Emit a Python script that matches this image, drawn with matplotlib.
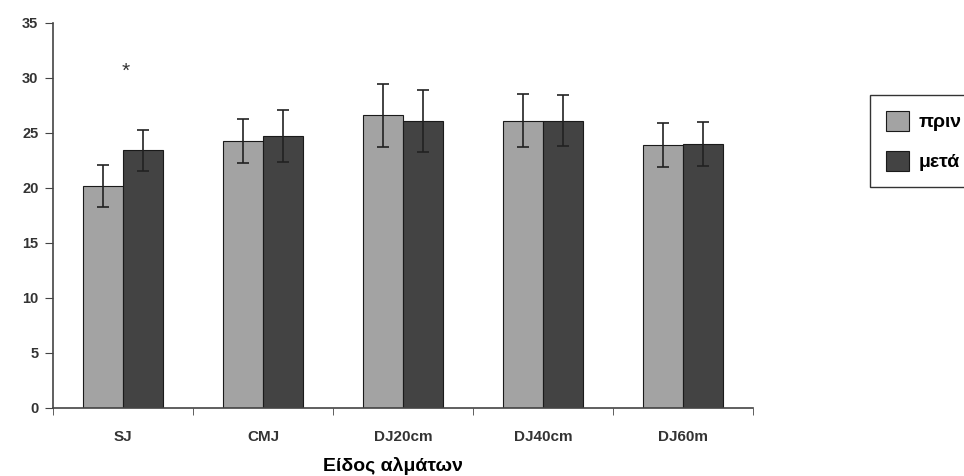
import matplotlib
matplotlib.use("Agg")
import matplotlib.pyplot as plt
import numpy as np

categories = ["SJ", "CMJ", "DJ20cm", "DJ40cm", "DJ60m"]
before = [20.2, 24.3, 26.6, 26.1, 23.9]
after = [23.4, 24.7, 26.1, 26.1, 24.0]
before_err = [1.9, 2.0, 2.85, 2.4, 2.0]
after_err = [1.9, 2.35, 2.8, 2.3, 2.0]
series_names = ["πριν", "μετά"]
xlabel = "Είδος αλμάτων"
yticks = [0, 5, 10, 15, 20, 25, 30, 35]

plt.rcParams['font.family'] = ['Liberation Sans', 'DejaVu Sans']

fig = plt.figure(figsize=(9.64, 4.76), dpi=100)
ax = fig.add_axes([0.055, 0.143, 0.726, 0.809])

x = np.arange(len(categories)) + 0.5
w = 0.285
c1, c2 = "#a3a3a3", "#434343"
err_kw = dict(ecolor="#222222", elinewidth=1.2, capsize=4, capthick=1.2)
b1 = ax.bar(x - w/2, before, w, yerr=before_err, color=c1, edgecolor="#1a1a1a",
            linewidth=0.8, error_kw=err_kw, label=series_names[0])
b2 = ax.bar(x + w/2, after, w, yerr=after_err, color=c2, edgecolor="#1a1a1a",
            linewidth=0.8, error_kw=err_kw, label=series_names[1])

ax.text(x[0] + 0.02, 30.6, "*", ha="center", va="center", fontsize=15,
        color="#333333")

ax.set_xlim(0, len(categories))
ax.set_ylim(0, 35)
ax.set_yticks(yticks)
ax.set_yticklabels([str(v) for v in yticks], fontsize=10.5, fontweight="bold", color="#333333")
ax.set_xticks(x)
ax.set_xticklabels(categories, fontsize=11, fontweight="bold", color="#333333")
ax.set_xticks(np.arange(len(categories) + 1), minor=True)
ax.tick_params(axis="x", which="major", length=0, pad=16)
ax.tick_params(axis="x", which="minor", length=5, direction="out", color="#444444")
ax.tick_params(axis="y", length=6, direction="out", color="#444444", pad=4.5)

for s in ["top", "right"]:
    ax.spines[s].set_visible(False)
for s in ["left", "bottom"]:
    ax.spines[s].set_color("#444444")
    ax.spines[s].set_linewidth(1.2)

fig.text(0.408, 0.003, xlabel, ha="center", va="bottom", fontsize=14, fontweight="bold")

leg = fig.legend(handles=[b1, b2], labels=series_names, loc="upper left",
                 bbox_to_anchor=(0.9025, 0.80), frameon=True, fancybox=False,
                 edgecolor="#000000", prop={"weight": "bold", "size": 14},
                 handlelength=1.2, handleheight=1.2, borderpad=0.8,
                 labelspacing=1.0, handletextpad=0.5, borderaxespad=0)
leg.get_frame().set_linewidth(1.0)

fig.savefig("out.png", dpi=100)
